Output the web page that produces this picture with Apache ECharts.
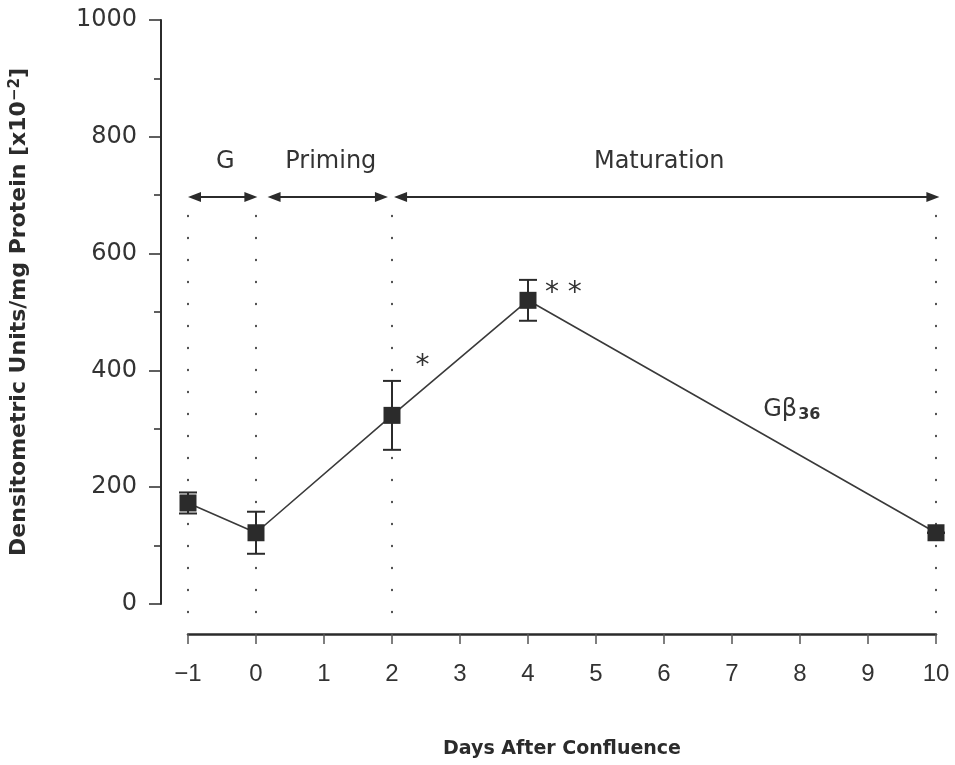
<!DOCTYPE html>
<html>
<head>
<meta charset="utf-8">
<script src="https://cdn.jsdelivr.net/npm/echarts@6/dist/echarts.min.js"></script>
<style>
  html, body { margin: 0; padding: 0; background: #fff; }
  #chart { width: 955px; height: 765px; }
</style>
</head>
<body>
<div id="chart"></div>
<script>
// G-beta-36 immunoreactivity over the culture time course
const days = [-1, 0, 2, 4, 10];
const gBeta36 = [173, 122, 323, 520, 122];
const sem = [18, 36, 59, 35, 0];

// culture phases, shown as double-headed arrows above the curve
const phaseNames = ['G', 'Priming', 'Maturation'];
const phaseFrom = [-1, 0.17, 2.03];
const phaseTo = [0.02, 1.94, 10.05];
const phaseLabelDay = [-0.45, 1.1, 5.93];
const phaseArrowLevel = 697;
const phaseLabelLevel = 757;

// dotted guides at the phase boundaries
const boundaryDays = [-1, 0, 2, 10];
const guideTop = 692;
const guideBottom = -14;

// significance marks
const starText = ['*', '* *'];
const starDay = [2.45, 4.52];
const starLevel = [406, 532];

// curve label
const curveLabel = 'G\u03B2{sub|36}';
const curveLabelDay = 7.88;
const curveLabelLevel = 333;

const yTicks = [0, 200, 400, 600, 800, 1000];
const xTicks = [-1, 0, 1, 2, 3, 4, 5, 6, 7, 8, 9, 10];

const ink = '#2b2b2b';
const chart = echarts.init(document.getElementById('chart'));

function arrowHead(tipX, tipY, dir) {
  const len = 13, half = 5;
  return {
    type: 'polygon',
    shape: { points: [[tipX, tipY], [tipX - dir * len, tipY - half], [tipX - dir * len, tipY + half]] },
    style: { fill: ink }
  };
}

chart.setOption({
  animation: false,
  backgroundColor: '#fff',
  grid: { left: 187, right: 19, top: 20, bottom: 161 },
  xAxis: {
    type: 'value',
    min: xTicks[0],
    max: xTicks[xTicks.length - 1],
    interval: 1,
    offset: 30,
    name: 'Days After Confluence',
    nameLocation: 'middle',
    nameGap: 106,
    nameTextStyle: { fontFamily: 'DejaVu Sans', fontWeight: 'bold', fontSize: 19, color: ink },
    axisLine: { show: true, onZero: false, lineStyle: { color: ink, width: 2.5 } },
    axisTick: { show: true, inside: false, length: 10, lineStyle: { color: '#555', width: 1.5 } },
    axisLabel: {
      margin: 28,
      fontFamily: 'Liberation Sans Narrow, Liberation Sans',
      fontSize: 24,
      color: '#333',
      formatter: v => (v < 0 ? '\u2212' + (-v) : String(v))
    },
    splitLine: { show: false }
  },
  yAxis: {
    type: 'value',
    min: yTicks[0],
    max: yTicks[yTicks.length - 1],
    interval: 200,
    offset: 27,
    name: 'Densitometric Units/mg Protein [x10{sup|\u22122}]',
    nameLocation: 'middle',
    nameGap: 130,
    nameTextStyle: {
      fontFamily: 'DejaVu Sans', fontWeight: 'bold', fontSize: 22, color: ink,
      rich: { sup: { fontFamily: 'DejaVu Sans', fontWeight: 'bold', fontSize: 15, color: ink, verticalAlign: 'top', padding: [0, 0, 8, 0] } }
    },
    axisLine: { show: true, onZero: false, lineStyle: { color: ink, width: 2 } },
    axisTick: { show: true, inside: false, length: 12, lineStyle: { color: ink, width: 1.5 } },
    minorTick: { show: true, splitNumber: 2, length: 7, lineStyle: { color: ink, width: 1.5 } },
    axisLabel: { margin: 24, fontFamily: 'DejaVu Sans', fontSize: 24, color: '#333', formatter: v => String(v) },
    splitLine: { show: false },
    minorSplitLine: { show: false }
  },
  series: [
    {
      // dotted phase boundaries, phase arrows and labels
      type: 'custom',
      clip: false,
      silent: true,
      z: 1,
      data: [0],
      renderItem: function (params, api) {
        const children = [];
        boundaryDays.forEach(d => {
          const b = api.coord([d, guideBottom]);
          const t = api.coord([d, guideTop]);
          children.push({
            type: 'line',
            shape: { x1: b[0], y1: b[1], x2: t[0], y2: t[1] },
            style: { stroke: '#444', lineWidth: 2, lineDash: [0.5, 21.5], lineCap: 'round' }
          });
        });
        phaseNames.forEach((name, i) => {
          const a = api.coord([phaseFrom[i], phaseArrowLevel]);
          const b = api.coord([phaseTo[i], phaseArrowLevel]);
          children.push({
            type: 'line',
            shape: { x1: a[0] + 6, y1: a[1], x2: b[0] - 6, y2: b[1] },
            style: { stroke: ink, lineWidth: 2 }
          });
          children.push(arrowHead(a[0], a[1], -1));
          children.push(arrowHead(b[0], b[1], 1));
          const l = api.coord([phaseLabelDay[i], phaseLabelLevel]);
          children.push({
            type: 'text',
            style: {
              text: name, x: l[0], y: l[1], align: 'center', verticalAlign: 'middle',
              font: '24px "DejaVu Sans"', fill: '#333'
            }
          });
        });
        starText.forEach((s, i) => {
          const p = api.coord([starDay[i], starLevel[i]]);
          children.push({
            type: 'text',
            style: {
              text: s, x: p[0], y: p[1], align: 'center', verticalAlign: 'middle',
              font: '28px "DejaVu Sans"', fill: '#333'
            }
          });
        });
        const g = api.coord([curveLabelDay, curveLabelLevel]);
        children.push({
          type: 'text',
          style: {
            text: curveLabel, x: g[0], y: g[1], align: 'center', verticalAlign: 'middle',
            font: '24px "DejaVu Sans"', fill: '#333',
            rich: { sub: { font: 'bold 16px "DejaVu Sans"', fill: '#333', padding: [10, 0, 0, 1] } }
          }
        });
        return { type: 'group', children: children };
      }
    },
    {
      // error bars (mean +/- SEM)
      type: 'custom',
      clip: false,
      silent: true,
      z: 2,
      data: days.map((d, i) => [d, gBeta36[i] - sem[i], gBeta36[i] + sem[i]]),
      renderItem: function (params, api) {
        const lo = api.coord([api.value(0), api.value(1)]);
        const hi = api.coord([api.value(0), api.value(2)]);
        const cap = 9;
        const st = { stroke: ink, lineWidth: 2 };
        return {
          type: 'group',
          children: [
            { type: 'line', shape: { x1: lo[0], y1: lo[1], x2: hi[0], y2: hi[1] }, style: st },
            { type: 'line', shape: { x1: lo[0] - cap, y1: lo[1], x2: lo[0] + cap, y2: lo[1] }, style: st },
            { type: 'line', shape: { x1: hi[0] - cap, y1: hi[1], x2: hi[0] + cap, y2: hi[1] }, style: st }
          ]
        };
      }
    },
    {
      type: 'line',
      z: 3,
      data: days.map((d, i) => [d, gBeta36[i]]),
      symbol: 'rect',
      symbolSize: 17,
      showSymbol: true,
      lineStyle: { color: '#3a3a3a', width: 1.6 },
      itemStyle: { color: ink, borderWidth: 0 }
    }
  ]
});
</script>
</body>
</html>
